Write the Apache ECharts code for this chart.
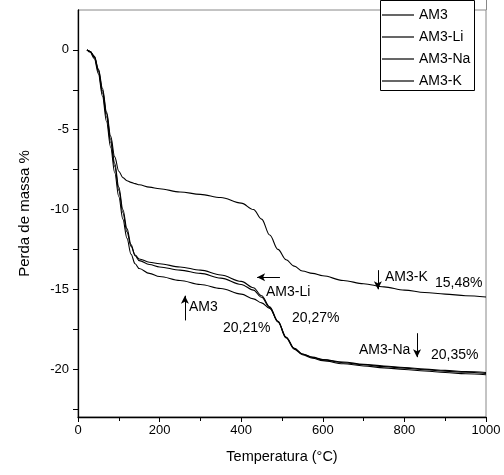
<!DOCTYPE html>
<html>
<head>
<meta charset="utf-8">
<script src="https://cdn.jsdelivr.net/npm/echarts@6/dist/echarts.min.js"></script>
<style>
  html, body { margin: 0; padding: 0; background: #fff; }
  #chart { width: 504px; height: 475px; }
</style>
</head>
<body>
<div id="chart"></div>
<script>
// Thermogravimetric curves: mass loss (%) versus temperature (°C)
const temps = [22, 30, 40, 50, 60, 70, 80, 90, 100, 110, 120, 130, 140, 150, 175, 200,
  250, 300, 350, 400, 430, 450, 470, 490, 510, 530, 550, 575, 600, 650, 700, 750,
  800, 850, 900, 950, 1000];

const am3 = [0, -0.15, -0.55, -1.5, -2.9, -4.5, -6.1, -7.7, -9.2, -10.6, -11.8, -12.8, -13.4, -13.7, -14.0, -14.2,
  -14.45, -14.7, -14.95, -15.3, -15.6, -15.85, -16.2, -17.0, -18.0, -18.7, -19.05, -19.25, -19.4, -19.55, -19.7, -19.8,
  -19.9, -20.0, -20.08, -20.15, -20.21];

const am3Li = [0, -0.1, -0.45, -1.35, -2.7, -4.2, -5.8, -7.3, -8.8, -10.2, -11.4, -12.3, -12.85, -13.1, -13.3, -13.4,
  -13.6, -13.8, -14.1, -14.5, -14.9, -15.4, -16.1, -17.0, -18.0, -18.7, -19.05, -19.27, -19.42, -19.6, -19.73, -19.84,
  -19.94, -20.04, -20.13, -20.2, -20.27];

const am3Na = [0, -0.1, -0.4, -1.25, -2.55, -4.0, -5.6, -7.1, -8.6, -10.0, -11.2, -12.2, -12.9, -13.2, -13.45, -13.6,
  -13.8, -14.0, -14.3, -14.7, -15.05, -15.5, -16.15, -17.05, -18.05, -18.75, -19.1, -19.32, -19.47, -19.66, -19.8, -19.92,
  -20.02, -20.12, -20.21, -20.29, -20.35];

const am3K = [0, -0.1, -0.4, -1.2, -2.4, -3.9, -5.4, -6.7, -7.6, -8.0, -8.2, -8.3, -8.38, -8.45, -8.6, -8.7,
  -8.9, -9.05, -9.25, -9.6, -10.0, -10.6, -11.6, -12.5, -13.15, -13.55, -13.85, -14.0, -14.15, -14.45, -14.65, -14.85,
  -15.05, -15.2, -15.3, -15.4, -15.48];

const seriesNames = ['AM3', 'AM3-Li', 'AM3-Na', 'AM3-K'];
const seriesValues = [am3, am3Li, am3Na, am3K];

const xTickLabels = ['0', '200', '400', '600', '800', '1000'];
const yLabelValues = [-20, -15, -10, -5, 0];
const yTickValues = [-22.5, -20, -17.5, -15, -12.5, -10, -7.5, -5, -2.5, 0];

// Arrow annotations, given in data space [temperature, mass loss]
const arrows = [
  [[735, -13.8], [735, -15.0]],   // AM3-K, pointing down
  [[495, -14.25], [439, -14.25]], // AM3-Li, pointing left
  [[262, -16.95], [262, -15.4]],  // AM3, pointing up
  [[831, -17.75], [831, -19.25]]  // AM3-Na, pointing down
];

const FONT = '"Liberation Sans", Arial, sans-serif';

const chart = echarts.init(document.getElementById('chart'), null, { renderer: 'canvas' });

const series = seriesNames.map((name, i) => ({
  name: name,
  type: 'line',
  data: temps.map((t, j) => [t, seriesValues[i][j]]),
  showSymbol: false,
  smooth: 0.35,
  smoothMonotone: 'x',
  lineStyle: { color: '#000', width: 1.1 },
  itemStyle: { color: '#000' },
  silent: true,
  z: 3
}));

series[0].markLine = {
  silent: true,
  symbol: ['none', 'arrow'],
  symbolSize: [6, 8],
  label: { show: false },
  lineStyle: { color: '#000', width: 1, type: 'solid' },
  data: arrows.map(a => [{ coord: a[0] }, { coord: a[1] }])
};

function txt(text, x, y) {
  return {
    type: 'text', x: x, y: y, z: 10,
    style: { text: text, fill: '#000', font: '14px ' + FONT, align: 'left', verticalAlign: 'middle' }
  };
}

chart.setOption({
  animation: false,
  backgroundColor: '#fff',
  grid: { left: 78, right: 18, top: 10, bottom: 58, show: true, borderColor: '#888', borderWidth: 1 },
  legend: {
    data: seriesNames,
    orient: 'vertical',
    left: 380,
    top: 1,
    icon: 'rect',
    itemWidth: 32,
    itemHeight: 1.2,
    itemGap: 8,
    padding: [7, 4, 7, 2],
    z: 8,
    textStyle: { color: '#000', fontSize: 14, fontFamily: FONT },
    selectedMode: false
  },
  xAxis: {
    type: 'value',
    min: 0, max: 1000, interval: 200,
    name: 'Temperatura (°C)',
    nameLocation: 'middle',
    nameGap: 32,
    nameTextStyle: { color: '#000', fontSize: 14.5, fontFamily: FONT },
    axisLine: { onZero: false, lineStyle: { color: '#000', width: 1.3 } },
    axisTick: { show: true, inside: false, length: 5, lineStyle: { color: '#000' } },
    minorTick: { show: true, splitNumber: 2, length: 4, lineStyle: { color: '#000' } },
    axisLabel: {
      color: '#000', fontSize: 13, fontFamily: FONT, margin: 7,
      formatter: v => xTickLabels[Math.round(v / 200)]
    },
    splitLine: { show: false }
  },
  yAxis: {
    type: 'value',
    min: -23, max: 2.5,
    name: 'Perda de massa %',
    nameLocation: 'middle',
    nameGap: 46,
    nameRotate: 90,
    nameTextStyle: { color: '#000', fontSize: 15, fontFamily: FONT },
    axisLine: { show: true, onZero: false, lineStyle: { color: '#000', width: 1.3 } },
    axisTick: { show: true, inside: false, length: 5, customValues: yTickValues, lineStyle: { color: '#000' } },
    axisLabel: { color: '#000', fontSize: 13, fontFamily: FONT, margin: 9, customValues: yLabelValues },
    splitLine: { show: false }
  },
  graphic: [
    // legend frame and the right border running up to the top edge
    { type: 'rect', z: 7, shape: { x: 380.5, y: 0.5, width: 94, height: 90 },
      style: { fill: '#fff', stroke: '#000', lineWidth: 1 } },
    { type: 'line', z: 6, shape: { x1: 486.5, y1: 0, x2: 486.5, y2: 10 },
      style: { stroke: '#888', lineWidth: 1 } },
    txt('AM3-K', 385, 277),
    txt('15,48%', 435, 283),
    txt('AM3-Li', 266, 292),
    txt('20,27%', 292, 318),
    txt('AM3', 189, 307),
    txt('20,21%', 223, 328),
    txt('AM3-Na', 359, 350),
    txt('20,35%', 431, 355)
  ],
  series: series
});
</script>
</body>
</html>
